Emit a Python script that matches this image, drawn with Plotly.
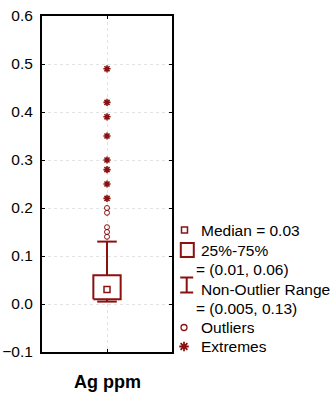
import plotly.graph_objects as go

# ---- data -------------------------------------------------------------
variable = "Ag ppm"
median = 0.03
q1, q3 = 0.01, 0.06
lower_fence, upper_fence = 0.005, 0.13
outliers = [0.14, 0.15, 0.16, 0.19, 0.20]
extremes = [0.22, 0.25, 0.28, 0.30, 0.35, 0.39, 0.42, 0.49]
y_ticks = [-0.1, 0.0, 0.1, 0.2, 0.3, 0.4, 0.5, 0.6]

# ---- style ------------------------------------------------------------
RED = "#8b1010"
FONT = "Liberation Sans, Arial, sans-serif"
W, H = 335, 397
L, T, B = 42, 16, 45
PLOT_W = 130                      # width of the plotting frame in px
PAPER_W = W - L
BOX_HALF = 0.21                   # half box width in x-axis units
CAP = 14                          # whisker cap width in px


def open_marker(symbol, size, width):
    # open symbols take their stroke colour from marker.color
    return dict(symbol=symbol, size=size, color=RED,
                line=dict(color=RED, width=width))


fig = go.Figure()

# box (interquartile range)
fig.add_trace(go.Scatter(
    x=[-BOX_HALF, BOX_HALF, BOX_HALF, -BOX_HALF, -BOX_HALF],
    y=[q1, q1, q3, q3, q1],
    mode="lines", fill="toself", fillcolor="white",
    line=dict(color=RED, width=2), hoverinfo="skip", showlegend=False))

# whiskers
fig.add_trace(go.Scatter(
    x=[0, 0, None, 0, 0], y=[lower_fence, q1, None, q3, upper_fence],
    mode="lines", line=dict(color=RED, width=2),
    hoverinfo="skip", showlegend=False))
fig.add_trace(go.Scatter(
    x=[0, 0], y=[lower_fence, upper_fence], mode="markers",
    marker=open_marker("line-ew-open", CAP, 2), showlegend=False))

# median
fig.add_trace(go.Scatter(
    x=[0], y=[median], mode="markers",
    marker=open_marker("square-open", 6, 1.5), showlegend=False))

# outliers and extremes
fig.add_trace(go.Scatter(
    x=[0] * len(outliers), y=outliers, mode="markers",
    marker=open_marker("circle-open", 5, 1), showlegend=False))
fig.add_trace(go.Scatter(
    x=[0] * len(extremes), y=extremes, mode="markers",
    marker=open_marker("asterisk-open", 6, 1.6), showlegend=False))

# ---- key (drawn in pixel coordinates on a helper axis pair) -----------
key_rows = [
    # (symbol, text, symbol_x, y)
    ("square-open", "Median = %g" % median, 184.5, 230),
    ("box", "25%-75%", 187.3, 250),
    (None, "= (%g, %g)" % (q1, q3), None, 269.3),
    ("ibeam", "Non-Outlier Range", 186.7, 289),
    (None, "= (%g, %g)" % (lower_fence, upper_fence), None, 308.3),
    ("circle-open", "Outliers", 184, 327.5),
    ("asterisk-open", "Extremes", 184, 346.5),
]

for sym, text, sx, sy in key_rows:
    tx = 199 if sym is not None else 194
    fig.add_annotation(x=tx, y=sy, xref="x2", yref="y2", text=text,
                       showarrow=False, xanchor="left", yanchor="middle",
                       font=dict(family=FONT, size=15.5, color="black"))
    if sym == "square-open":
        fig.add_trace(go.Scatter(x=[sx], y=[sy], xaxis="x2", yaxis="y2",
                                 mode="markers", showlegend=False,
                                 marker=open_marker("square-open", 6, 1.5)))
    elif sym == "box":
        fig.add_shape(type="rect", xref="x2", yref="y2",
                      x0=sx - 6.5, x1=sx + 6.5, y0=sy - 7, y1=sy + 7,
                      line=dict(color=RED, width=2), fillcolor="#fff8f4")
    elif sym == "ibeam":
        top, bot = sy - 11.5, sy + 3.5
        for seg in [(sx, top, sx, bot), (sx - 6.5, top, sx + 6.5, top),
                    (sx - 6.5, bot, sx + 6.5, bot)]:
            fig.add_shape(type="line", xref="x2", yref="y2",
                          x0=seg[0], y0=seg[1], x1=seg[2], y1=seg[3],
                          line=dict(color=RED, width=2))
    elif sym == "circle-open":
        fig.add_trace(go.Scatter(x=[sx], y=[sy], xaxis="x2", yaxis="y2",
                                 mode="markers", showlegend=False,
                                 marker=open_marker("circle-open", 6, 1.3)))
    elif sym == "asterisk-open":
        fig.add_trace(go.Scatter(x=[sx], y=[sy], xaxis="x2", yaxis="y2",
                                 mode="markers", showlegend=False,
                                 marker=open_marker("asterisk-open", 8, 1.8)))

# x-axis label
fig.add_annotation(x=0, y=-(381.5 - (H - B)) / (H - T - B), xref="x",
                   yref="paper", text="<b>%s</b>" % variable, showarrow=False,
                   xanchor="center", yanchor="middle",
                   font=dict(family=FONT, size=18, color="black"))

axis_common = dict(showline=True, linewidth=2, linecolor="black",
                   mirror="ticks", ticks="inside", ticklen=3, tickwidth=1,
                   tickcolor="black", showgrid=True, gridcolor="#e3e3e3",
                   griddash="dot", gridwidth=1, zeroline=False)

fig.update_layout(
    width=W, height=H,
    margin=dict(l=L, r=0, t=T, b=B, pad=0),
    paper_bgcolor="white", plot_bgcolor="white",
    font=dict(family=FONT, size=15, color="black"),
    xaxis=dict(range=[-1, 1], tickvals=[0], showticklabels=False,
               domain=[0, PLOT_W / PAPER_W], fixedrange=True, **axis_common),
    yaxis=dict(range=[-0.1, 0.6], tickvals=y_ticks, tickformat=".1f",
               tickfont=dict(family=FONT, size=15.5, color="black"),
               ticklabelstandoff=4, fixedrange=True, **axis_common),
    xaxis2=dict(domain=[PLOT_W / PAPER_W, 1], range=[L + PLOT_W, W],
                visible=False, anchor="y2", fixedrange=True),
    yaxis2=dict(domain=[0, 1], range=[H - B, T], visible=False,
                anchor="x2", fixedrange=True),
)

fig.write_html("out.html")
